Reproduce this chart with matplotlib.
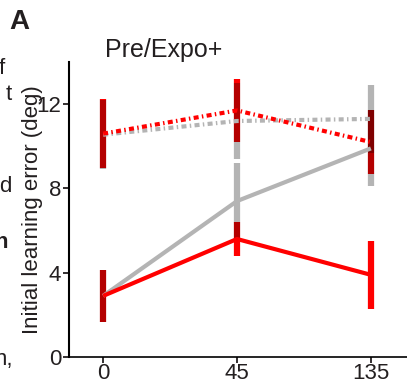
import matplotlib.pyplot as plt
import matplotlib.colors as mcolors
import numpy as np

plt.rcParams['font.family'] = ['Liberation Sans', 'DejaVu Sans']

x_labels = ['0', '45', '135']
pos = [1, 2, 3]

gray_solid = [2.9, 7.4, 9.9]
gray_solid_err = [1.25, 1.8, 1.8]
red_solid = [2.9, 5.6, 3.9]
red_solid_err = [1.25, 0.8, 1.6]

gray_dot = [10.55, 11.2, 11.3]
gray_dot_err = [1.65, 1.8, 1.6]
red_dot = [10.6, 11.7, 10.2]
red_dot_err = [1.65, 1.5, 1.5]

RED = '#ff0000'
GRAY = '#b4b4b4'

fig = plt.figure(figsize=(4.07, 3.84), dpi=100)
ax = fig.add_axes([69/407, 27/384, 338/407, 295/384])

# error bars, overlapping parts blended like multiply
bars = []
for vals, errs, c in [(gray_solid, gray_solid_err, GRAY), (red_solid, red_solid_err, RED),
                      (gray_dot, gray_dot_err, GRAY), (red_dot, red_dot_err, RED)]:
    for p, v, e in zip(pos, vals, errs):
        bars.append((p, v - e, v + e, np.array(mcolors.to_rgb(c))))

for p in pos:
    here = [b for b in bars if b[0] == p]
    edges = sorted(set([b[1] for b in here] + [b[2] for b in here]))
    for lo, hi in zip(edges[:-1], edges[1:]):
        mid = (lo + hi) / 2
        cover = [b[3] for b in here if b[1] <= mid <= b[2]]
        if not cover:
            continue
        col = np.prod(cover, axis=0)
        ax.plot([p, p], [lo, hi], color=col, lw=4.5, solid_capstyle='butt', zorder=2)

dash = (0, (1.2, 0.8, 0.35, 0.8))
ax.plot(pos, gray_solid, color=GRAY, lw=3, zorder=3, solid_capstyle='butt')
ax.plot(pos, red_solid, color=RED, lw=3, zorder=4, solid_capstyle='butt')
ax.plot(pos, gray_dot, color=GRAY, lw=3, ls=dash, zorder=3, dash_capstyle='butt')
ax.plot(pos, red_dot, color=RED, lw=3, ls=dash, zorder=4, dash_capstyle='butt')

ax.set_xlim(0.745, 3.27)
ax.set_ylim(0, 14)
ax.set_xticks(pos)
ax.set_xticklabels(x_labels)
ax.set_yticks([0, 4, 8, 12])
ax.spines['top'].set_visible(False)
ax.spines['right'].set_visible(False)
ax.spines['left'].set_linewidth(1.5)
ax.spines['bottom'].set_linewidth(1.2)
ax.tick_params(direction='out', length=4, width=1.3, labelsize=16, colors='#231f20')
ax.tick_params(axis='x', pad=0.5)
ax.tick_params(axis='y', pad=1.5)
ax.set_ylabel('Initial learning error (deg)', fontsize=16, color='#231f20')
ax.yaxis.set_label_coords(-0.078, 0.5)

fig.text(105/407, 1 - 50/384, 'Pre/Expo+', fontsize=18, va='center', color='#231f20')
fig.text(9/407, 1 - 22/384, 'A', fontsize=20, fontweight='bold', va='center', color='#231f20')

# cut-off text from the neighbouring panel
for x, y, s, w in [(5, 68, 'f', 'normal'), (12, 94, 't', 'normal'), (12, 186, 'd', 'normal'),
                   (8, 242, 'n', 'bold'), (13, 360, 'n,', 'normal')]:
    fig.text(x/407, 1 - y/384, s, fontsize=16, ha='right', va='center',
             fontweight=w, color='#231f20')

fig.savefig('out.png', dpi=100)
